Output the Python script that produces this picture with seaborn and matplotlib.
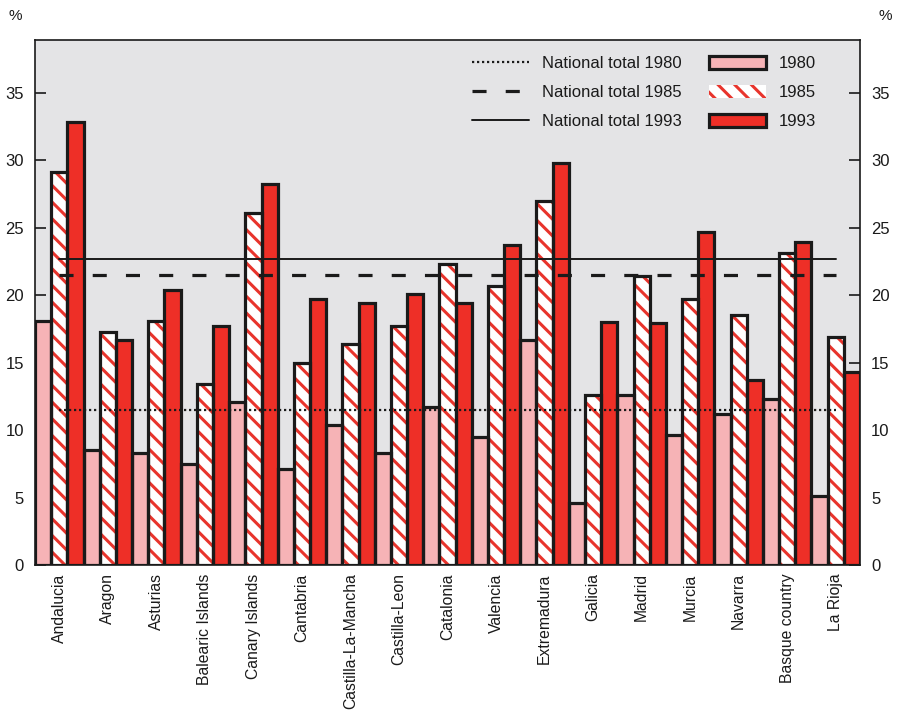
import matplotlib
matplotlib.use("Agg")
import matplotlib.pyplot as plt
from matplotlib.lines import Line2D
from matplotlib.patches import Patch
import pandas as pd
import seaborn as sns

regions = ["Andalucia", "Aragon", "Asturias", "Balearic Islands", "Canary Islands",
           "Cantabria", "Castilla-La-Mancha", "Castilla-Leon", "Catalonia", "Valencia",
           "Extremadura", "Galicia", "Madrid", "Murcia", "Navarra", "Basque country",
           "La Rioja"]
years = ["1980", "1985", "1993"]
rate_1980 = [18.1, 8.5, 8.3, 7.5, 12.1, 7.1, 10.4, 8.3, 11.7, 9.5, 16.7, 4.6, 12.6, 9.6, 11.2, 12.3, 5.1]
rate_1985 = [29.1, 17.3, 18.1, 13.4, 26.1, 15.0, 16.4, 17.7, 22.3, 20.7, 27.0, 12.6, 21.4, 19.7, 18.5, 23.1, 16.9]
rate_1993 = [32.8, 16.7, 20.4, 17.7, 28.2, 19.7, 19.4, 20.1, 19.4, 23.7, 29.8, 18.0, 17.9, 24.7, 13.7, 23.9, 14.3]
national_total = {"1980": 11.5, "1985": 21.5, "1993": 22.7}
y_ticks = [0, 5, 10, 15, 20, 25, 30, 35]

PINK = "#f6b3b6"
RED = "#ee2f27"
HATCH_RED = "#e8342c"
INK = "#1a1a1a"
PANEL = "#e4e4e6"
OUTLINE_LW = 2.3

DOTTED = (0, (1, 1.25))
DASHED = (0, (4.4, 6.0))

sns.set_style("white")
plt.rcParams["font.family"] = ["Liberation Sans", "DejaVu Sans"]
plt.rcParams["hatch.linewidth"] = 2.2

df = pd.DataFrame({
    "region": regions * 3,
    "year": sum([[y] * len(regions) for y in years], []),
    "rate": rate_1980 + rate_1985 + rate_1993,
})

fig = plt.figure(figsize=(9.03, 7.14), dpi=100)
ax = fig.add_axes([0.0388, 0.2087, 0.9136, 0.7353])
ax.set_facecolor(PANEL)

bar_kw = dict(data=df, x="region", y="rate", hue="year", order=regions,
              hue_order=years, width=1.0, gap=0, dodge=True, saturation=1,
              errorbar=None, legend=False, ax=ax)

# filled bars
sns.barplot(palette={"1980": PINK, "1985": "white", "1993": RED},
            linewidth=0, zorder=2, **bar_kw)

# 1985 bars: white with red diagonal stripes
for bar in ax.containers[1]:
    bar.set_edgecolor(HATCH_RED)
    bar.set_linewidth(0)
    bar.set_hatch("\\\\")

# black outlines on top of all fills, so shared edges stay visible
sns.barplot(palette={y: INK for y in years}, fill=False,
            linewidth=OUTLINE_LW, zorder=2.5, **bar_kw)
for container in ax.containers[3:]:
    for bar in container:
        bar.set_edgecolor(INK)
        bar.set_linewidth(OUTLINE_LW)
        bar.set_zorder(2.5)

# national averages drawn across the regions
x0, x1 = 0, len(regions) - 1
ax.plot([x0, x1], [national_total["1980"]] * 2, color=INK, lw=1.6,
        linestyle=DOTTED, zorder=3)
ax.plot([x0, x1], [national_total["1985"]] * 2, color=INK, lw=2.3,
        linestyle=DASHED, zorder=3)
ax.plot([x0, x1], [national_total["1993"]] * 2, color=INK, lw=1.4, zorder=3)

ax.set_xlim(-0.5, len(regions) - 0.5)
ax.set_ylim(0, 38.9)
ax.set_yticks(y_ticks)
ax.set_xlabel("")
ax.set_ylabel("")
ax.tick_params(axis="y", which="both", direction="in", length=8, width=1.2,
               left=True, right=True, labelleft=True, labelright=True,
               labelsize=12, colors=INK, pad=8)
ax.tick_params(axis="x", length=0, labelsize=11.3, labelcolor=INK, pad=6)
plt.setp(ax.get_xticklabels(), rotation=90)
for s in ax.spines.values():
    s.set_color(INK)
    s.set_linewidth(1.2)

fig.text(15 / 903, 1 - 16 / 714, "%", fontsize=11, color=INK, ha="center", va="center")
fig.text(885 / 903, 1 - 16 / 714, "%", fontsize=11, color=INK, ha="center", va="center")

handles = [
    Line2D([], [], color=INK, lw=1.6, linestyle=DOTTED),
    Line2D([], [], color=INK, lw=2.3, linestyle=DASHED),
    Line2D([], [], color=INK, lw=1.4),
    Patch(facecolor=PINK, edgecolor=INK, linewidth=OUTLINE_LW),
    Patch(facecolor="white", edgecolor=HATCH_RED, hatch="\\\\", linewidth=0),
    Patch(facecolor=RED, edgecolor=INK, linewidth=OUTLINE_LW),
]
labels = ["National total 1980", "National total 1985", "National total 1993",
          "1980", "1985", "1993"]
leg = ax.legend(handles, labels, ncol=2, frameon=False, loc="upper right",
                bbox_to_anchor=(0.965, 0.998), fontsize=12, handlelength=3.4,
                handleheight=0.85, handletextpad=0.8, labelspacing=0.8,
                columnspacing=1.6)
for t in leg.get_texts():
    t.set_color(INK)

fig.savefig("out.png", dpi=100, facecolor="white")
